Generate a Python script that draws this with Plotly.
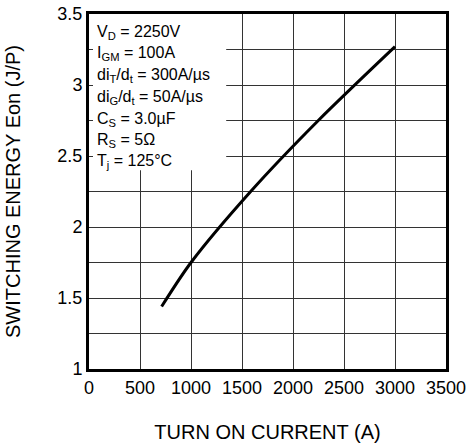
import plotly.graph_objects as go

current = [712, 1000, 1585, 2248, 3000]
energy = [1.44, 1.75, 2.25, 2.75, 3.27]

x_ticks = [0, 500, 1000, 1500, 2000, 2500, 3000, 3500]
y_grid = [1, 1.25, 1.5, 1.75, 2, 2.25, 2.5, 2.75, 3, 3.25, 3.5]
y_labels = ["1", "", "1.5", "", "2", "", "2.5", "", "3", "", "3.5"]

cond_lines = [
    "V<sub>D</sub> = 2250V",
    "I<sub>GM</sub> = 100A",
    "di<sub>T</sub>/d<sub>t</sub> = 300A/µs",
    "di<sub>G</sub>/d<sub>t</sub> = 50A/µs",
    "C<sub>S</sub> = 3.0µF",
    "R<sub>S</sub> = 5Ω",
    "T<sub>j</sub> = 125°C",
]
cond_y = [3.37, 3.22, 3.065, 2.91, 2.76, 2.61, 2.46]

FONT = "Liberation Sans, Arial, sans-serif"

fig = go.Figure()
fig.add_trace(go.Scatter(
    x=current, y=energy, mode="lines",
    line=dict(color="black", width=3, shape="spline", smoothing=0.8),
    showlegend=False, hoverinfo="skip",
))

fig.add_shape(type="rect", xref="x", yref="y", x0=0, x1=1345, y0=2.4, y1=3.5,
              fillcolor="white", line=dict(width=0), layer="between")

for t, yy in zip(cond_lines, cond_y):
    fig.add_annotation(x=0, y=yy, xref="x", yref="y", text=t, showarrow=False,
                       xanchor="left", yanchor="middle", xshift=6,
                       font=dict(family=FONT, size=16, color="black"))

fig.update_layout(
    width=468, height=443,
    margin=dict(l=89, r=22, t=14, b=74),
    paper_bgcolor="white", plot_bgcolor="white",
    font=dict(family=FONT, color="black"),
    xaxis=dict(
        range=[0, 3500], tickvals=x_ticks, ticktext=[str(v) for v in x_ticks],
        showgrid=True, gridcolor="#333", gridwidth=1,
        showline=True, linecolor="black", linewidth=3, mirror=True,
        ticks="", zeroline=False, automargin=False,
        tickfont=dict(family=FONT, size=18, color="black"),
        title=dict(text="TURN ON CURRENT (A)", font=dict(family=FONT, size=20, color="black"),
                   standoff=30),
    ),
    yaxis=dict(
        range=[1, 3.5], tickvals=y_grid, ticktext=y_labels,
        showgrid=True, gridcolor="#333", gridwidth=1,
        showline=True, linecolor="black", linewidth=3, mirror=True,
        ticks="inside", ticklen=4, tickcolor="#333", zeroline=False, automargin=False,
        tickfont=dict(family=FONT, size=18, color="black"),
        title=dict(text="SWITCHING ENERGY Eon (J/P)", font=dict(family=FONT, size=20, color="black"),
                   standoff=32),
    ),
)

fig.write_html("out.html")
